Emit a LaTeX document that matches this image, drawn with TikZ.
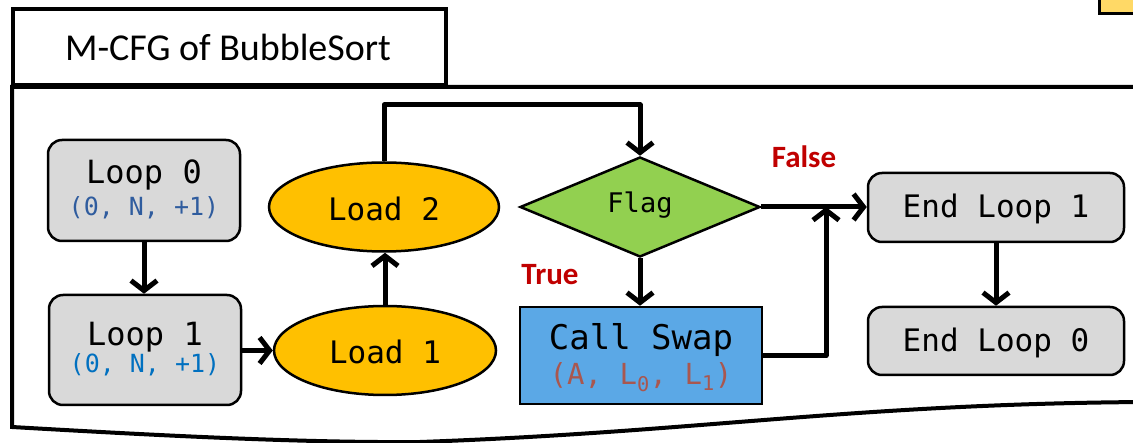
\documentclass[tikz,border=0pt]{standalone}
\usepackage{fontspec}
\setmainfont{Carlito}
\setmonofont{DejaVu Sans Mono}
\usetikzlibrary{shapes.geometric,arrows.meta}
\definecolor{boxgray}{HTML}{D9D9D9}
\definecolor{loadyel}{HTML}{FFC000}
\definecolor{flaggreen}{HTML}{92D050}
\definecolor{swapblue}{HTML}{5BA8E6}
\definecolor{tabyel}{HTML}{FFD966}
\definecolor{subdark}{HTML}{2F5C9E}
\definecolor{sublight}{HTML}{0070C0}
\definecolor{subred}{HTML}{A9574F}
\definecolor{labred}{HTML}{C00000}
\tikzset{
  frame/.style={line width=4pt, line join=miter},
  graybox/.style={draw, line width=2.5pt, fill=boxgray, rounded corners=14pt, inner sep=0pt},
  loadell/.style={draw, line width=2.5pt, fill=loadyel, ellipse, inner sep=0pt},
  flagdia/.style={draw, line width=2.5pt, fill=flaggreen, diamond, inner sep=0pt, aspect=2.4},
  swapbox/.style={draw, line width=2.5pt, fill=swapblue, inner sep=0pt},
  conn/.style={line width=5pt, line join=round, -{Straight Barb[length=10pt,width=26pt,line width=5pt]}},
  codetxt/.style={font=\fontsize{31}{31}\ttfamily, inner sep=0pt},
  subtxt/.style={font=\fontsize{25}{25}\ttfamily, inner sep=0pt},
  lab/.style={font=\fontsize{31}{31}\bfseries, text=labred, inner sep=0pt},
}
\begin{document}
\begin{tikzpicture}[x=1pt,y=-1pt]
\useasboundingbox (0,0) rectangle (1133,443);
% top-right partial box
\draw[line width=3pt, fill=tabyel] (1099,-10) rectangle (1145,14);
% frame
\draw[frame] (13,9) rectangle (446,85);
\draw[frame] (1145,87) -- (12,87) -- (12,427)
  .. controls (150,435) and (300,443) .. (420,442)
  .. controls (700,432) and (850,404) .. (1145,402);
\node[font=\fontsize{38}{38}\selectfont, inner sep=0pt] (title) at (228,47) {M-CFG of BubbleSort};

% nodes
\node[graybox, minimum width=192pt, minimum height=101pt] (loop0) at (144,190.5) {};
\node[codetxt, font=\fontsize{32}{32}\ttfamily] (loop0t) at (144,175) {Loop 0};
\node[subtxt, text=subdark] (loop0s) at (144,208) {(0, N, +1)};

\node[graybox, minimum width=192pt, minimum height=110pt] (loop1) at (145,350) {};
\node[codetxt, font=\fontsize{32}{32}\ttfamily] (loop1t) at (145,337) {Loop 1};
\node[subtxt, text=sublight] (loop1s) at (145,365) {(0, N, +1)};

\node[loadell, minimum width=230pt, minimum height=89pt] (load2) at (384,207) {};
\node[codetxt] (load2t) at (384,209) {Load 2};
\node[loadell, minimum width=222pt, minimum height=89pt] (load1) at (385,350.5) {};
\node[codetxt] (load1t) at (385,352) {Load 1};

\node[flagdia, minimum width=240pt, minimum height=100pt] (flag) at (640,207) {};
\node[codetxt, font=\fontsize{27}{27}\ttfamily] (flagt) at (640,205) {Flag};

\node[swapbox, minimum width=242pt, minimum height=97pt] (swap) at (641,355.5) {};
\node[codetxt, font=\fontsize{34}{34}\ttfamily] (swapt) at (641,340) {Call Swap};
\node[subtxt, font=\fontsize{29}{29}\ttfamily, text=subred] (swaps) at (641,377) {(A, L$_{\mathtt{0}}$, L$_{\mathtt{1}}$)};

\node[graybox, minimum width=256pt, minimum height=69pt] (end1) at (996,207.5) {};
\node[codetxt] (end1t) at (996,209) {End Loop 1};
\node[graybox, minimum width=256pt, minimum height=68pt] (end0) at (996,341) {};
\node[codetxt] (end0t) at (996,343) {End Loop 0};

\node[lab] (false) at (804,157) {False};
\node[lab] (true) at (550,275) {True};

% connectors
\coordinate (topturn) at (384,105);
\coordinate (merge) at (826,207);
\draw[conn] (loop0.south) -- (loop1.north -| loop0.south);
\draw[conn] (loop1.east |- load1.west) -- (load1.west);
\draw[conn] (load1.north) -- (load2.south -| load1.north);
\draw[conn] (load2.north) -- (topturn) -| (flag.north);
\draw[conn] (flag.south) -- (swap.north -| flag.south);
\draw[conn] (flag.east) -- (end1.west |- flag.east);
\draw[conn] (swap.east) -| (merge);
\draw[conn] (end1.south) -- (end0.north);
\end{tikzpicture}
\end{document}
